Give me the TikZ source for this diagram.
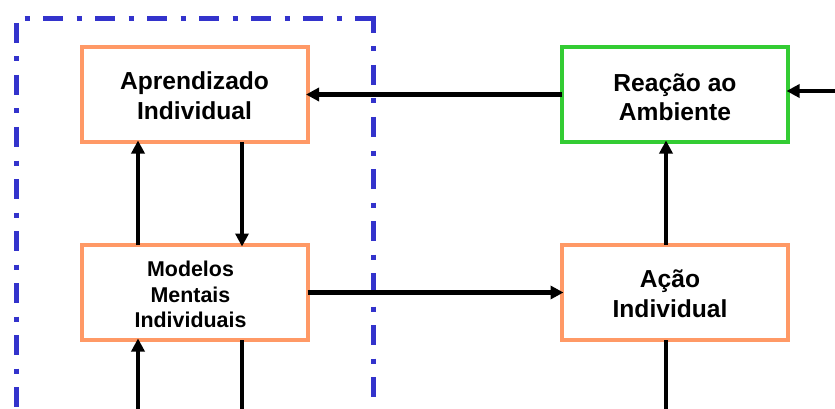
\documentclass[tikz,border=0pt]{standalone}
\usepackage{fontspec}
\setmainfont{Liberation Sans}
\usetikzlibrary{arrows.meta}
\definecolor{boxorange}{HTML}{FF9966}
\definecolor{boxgreen}{HTML}{33CC33}
\definecolor{frameblue}{HTML}{3333CC}
\begin{document}
\begin{tikzpicture}[x=1pt,y=-1pt,
  box/.style={draw, line width=4pt, inner sep=0pt, outer sep=0pt,
    minimum width=226pt, minimum height=95pt},
  bigtext/.style={inner sep=0pt, align=center,
    font=\bfseries\fontsize{24.6}{29.5}\selectfont},
  smalltext/.style={inner sep=0pt, align=center,
    font=\bfseries\fontsize{21.4}{25.5}\selectfont},
  arr/.style={line width=4.5pt, shorten >=-1.5pt, -{Triangle[length=13pt,width=13pt]}},
  plainline/.style={line width=4.5pt},
  frameline/.style={draw=frameblue, line width=5pt,
    dash pattern=on 20pt off 13.5pt on 5pt off 13.5pt}]
\fill[white] (0,0) rectangle (835,409);
\useasboundingbox (0,0) rectangle (835,409);

% dash-dot frame
\draw[frameline, dash phase=25pt] (16,19) -- (373.5,19);
\draw[frameline, dash phase=3.5pt] (373.5,16.5) -- (373.5,409);
\draw[frameline, dash phase=45.5pt] (16,16.5) -- (16,409);

% boxes
\node[box, draw=boxorange] (aprend) at (194.5,94.5) {};
\node[box, draw=boxorange] (modelos) at (194.5,292.5) {};
\node[box, draw=boxgreen] (reacao) at (675,94.5) {};
\node[box, draw=boxorange] (acao) at (675,292.5) {};

% texts
\node[bigtext] (aprendT) at ([yshift=-1.2pt]aprend.center) {Aprendizado\\Individual};
\node[smalltext] (modelosT) at ([xshift=-4pt,yshift=-2pt]modelos.center) {Modelos\\Mentais\\Individuais};
\node[bigtext] (reacaoT) at ([yshift=-3pt]reacao.center) {Reação ao\\Ambiente};
\node[bigtext] (acaoT) at ([xshift=-5pt,yshift=-1.5pt]acao.center) {Ação\\Individual};

% helper coordinates
\coordinate (rin) at (835,91);
\coordinate (xl) at (138,0);
\coordinate (xm) at (242,0);
\coordinate (xr) at (666,0);
\coordinate (bl) at (138,409);
\coordinate (bm) at (242,409);
\coordinate (br) at (666,409);

% connectors
\draw[arr] (reacao.west) -- (reacao.west -| aprend.east);
\draw[arr] (rin) -- (rin -| reacao.east);
\draw[arr] (modelos.east) -- (modelos.east -| acao.west);
\draw[arr] (acao.north -| xr) -- (reacao.south -| xr);
\draw[arr] (modelos.north -| xl) -- (aprend.south -| xl);
\draw[arr] (aprend.south -| xm) -- (modelos.north -| xm);
\draw[arr] (bl) -- (modelos.south -| xl);
\draw[plainline] (modelos.south -| xm) -- (bm);
\draw[plainline] (acao.south -| xr) -- (br);
\end{tikzpicture}
\end{document}
